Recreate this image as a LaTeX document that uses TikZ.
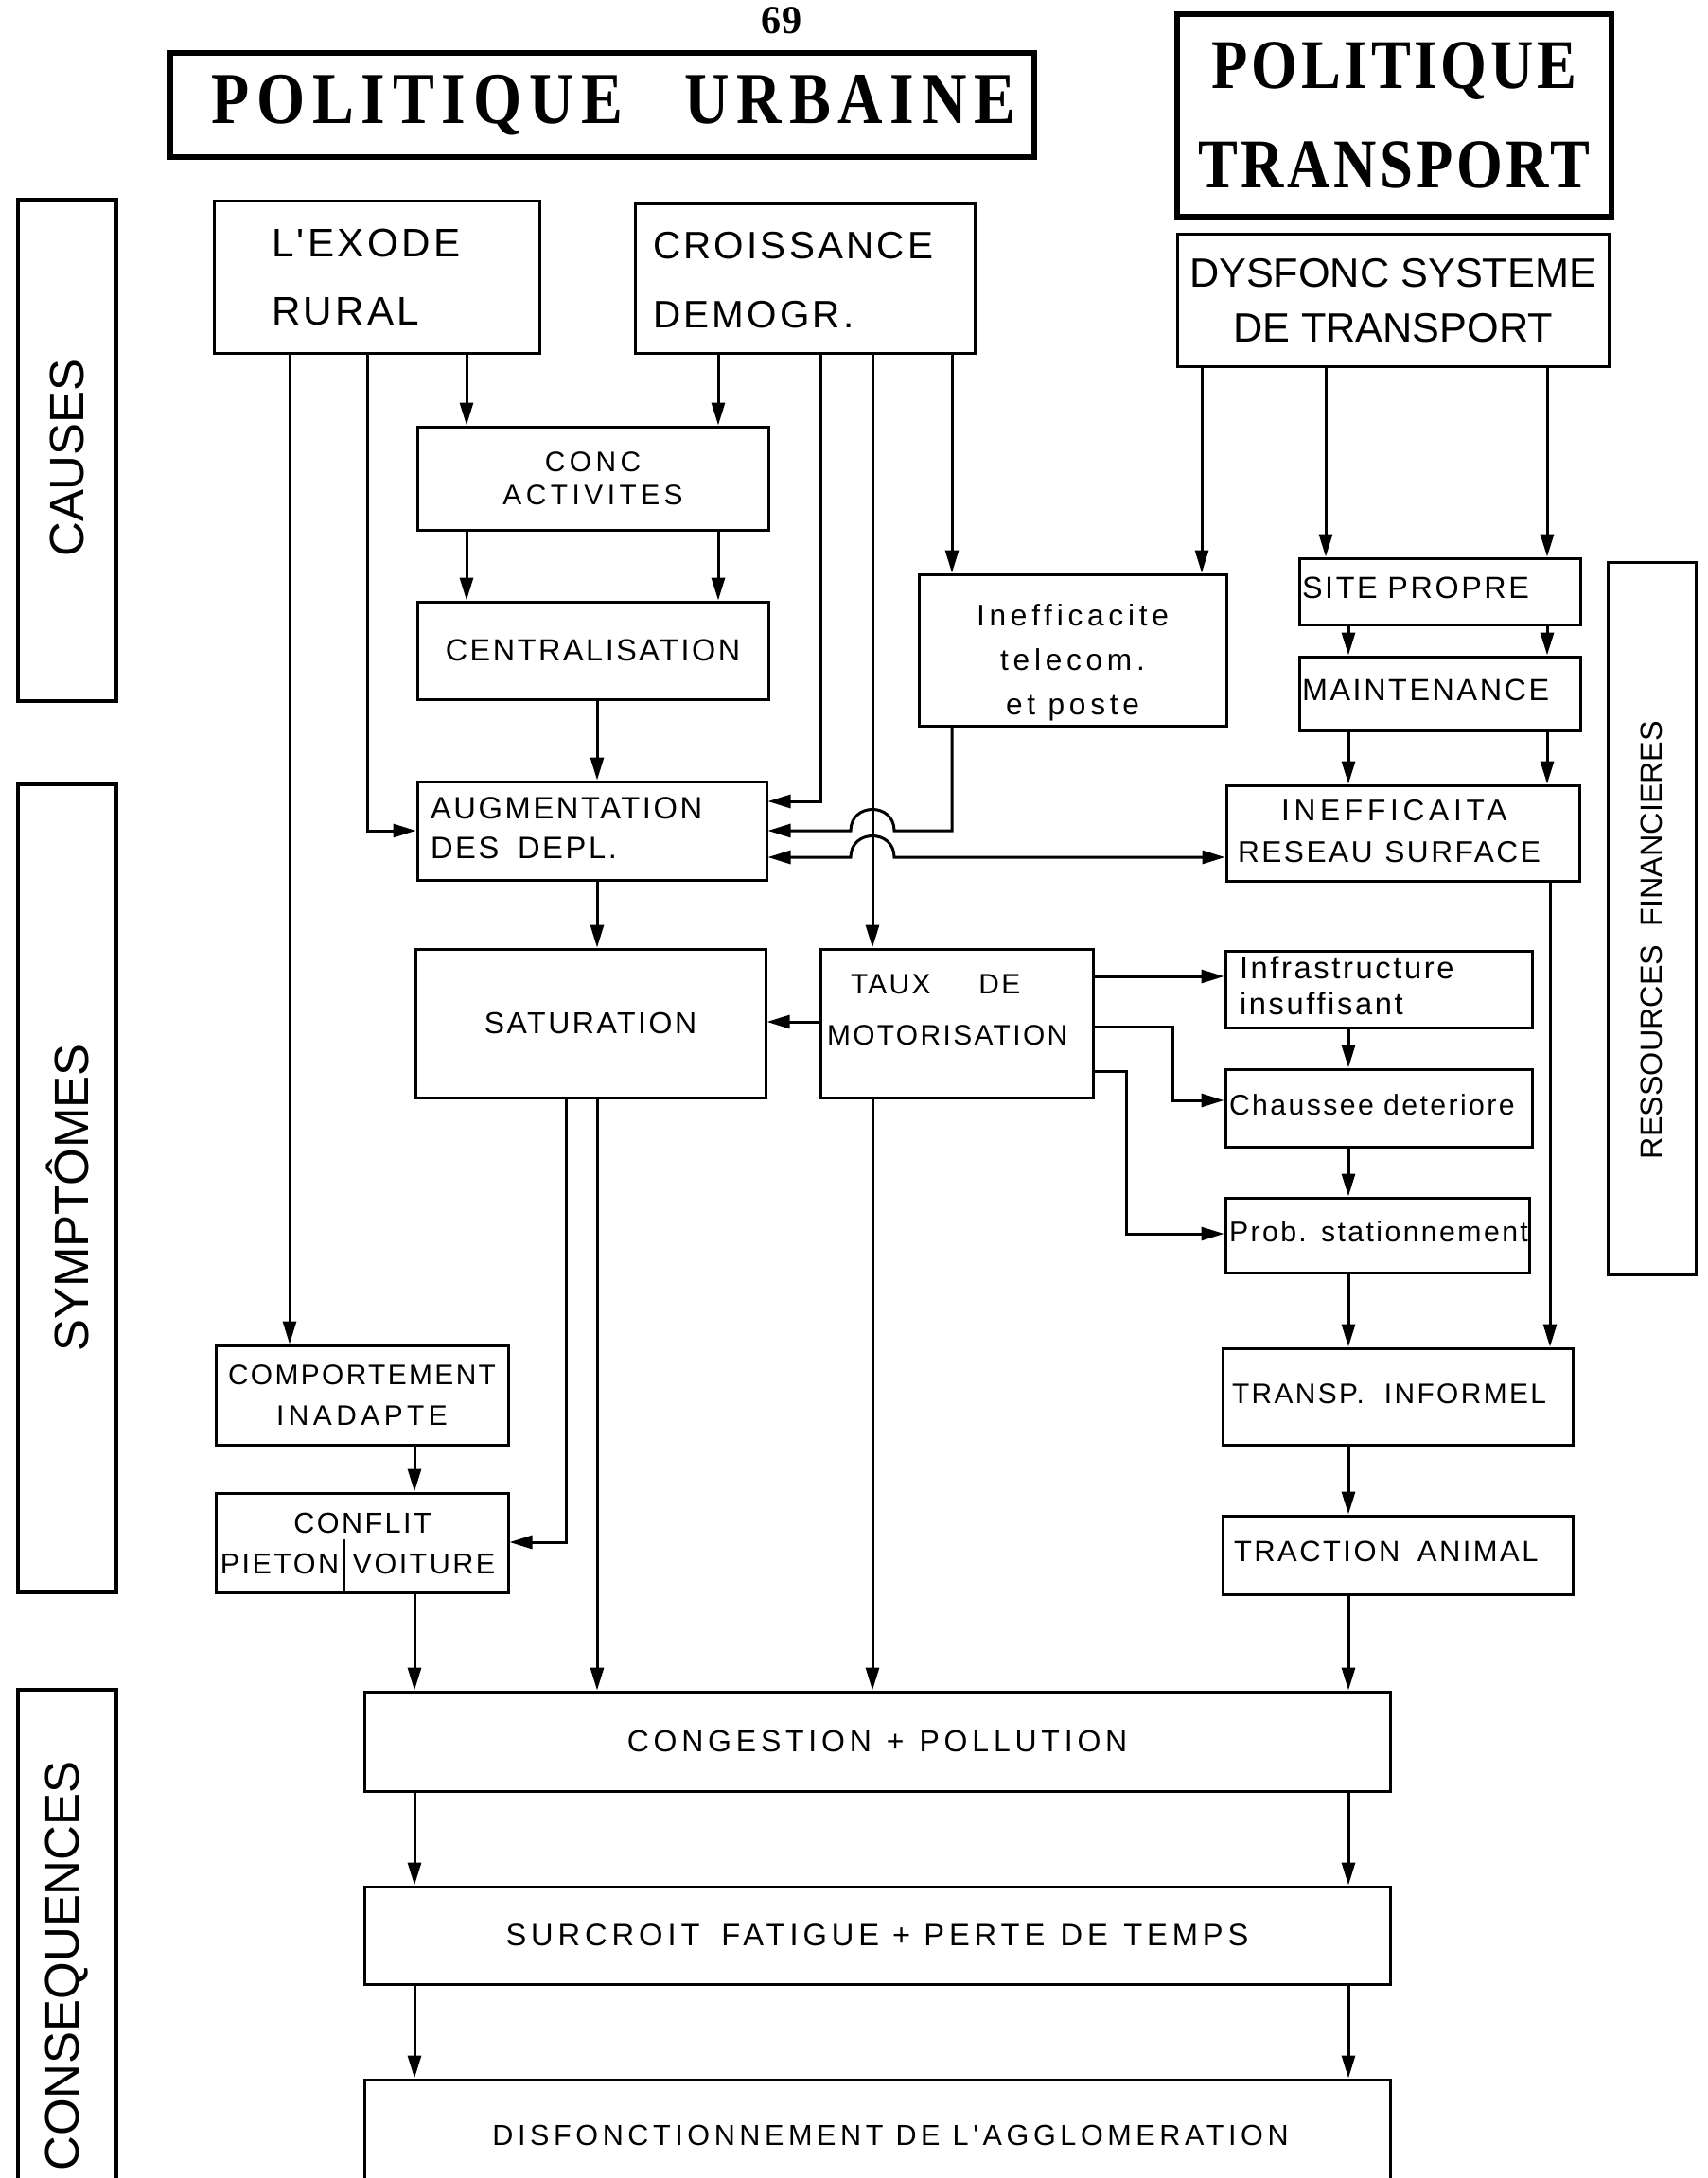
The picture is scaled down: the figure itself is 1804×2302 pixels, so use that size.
\documentclass[tikz,border=0pt]{standalone}
\usepackage{fontspec}
\setmainfont{Liberation Sans}
\newfontfamily\fN{Liberation Sans}
\newfontfamily\fB{Liberation Sans}[LetterSpace=8]
\newfontfamily\fC{Liberation Sans}[LetterSpace=15]
\newfontfamily\fH{Liberation Serif}[LetterSpace=5,FakeStretch=0.85]
\newfontfamily\fHw{Liberation Serif}[LetterSpace=10,FakeStretch=0.85]
\newfontfamily\fS{Liberation Serif}
\usetikzlibrary{arrows.meta,calc}
\newcommand\fsz[2]{\fontsize{#1}{#2}\selectfont}
% left-aligned block of lines, indented by #1 from the box edge
\newcommand\lft[2]{\hspace*{#1}\begin{tabular}{@{}l@{}}#2\end{tabular}}
% move a label vertically inside its box without changing the box
\newcommand\vmove[2]{\raisebox{#1}[\height][\depth]{#2}}
\tikzset{
  bx/.style={draw, line width=0.3mm, inner sep=0pt, align=center},
  lbx/.style={bx, align=left, text width=#1*0.1mm},
  sz/.style 2 args={minimum width=#1*0.1mm, minimum height=#2*0.1mm},
  hd/.style={draw, line width=0.6mm, inner sep=0pt, align=center},
  side/.style={draw, line width=0.45mm, inner sep=0pt, rotate=90, font=\fN\fsz{14.5}{17}},
  txt/.style={inner sep=0pt},
  ln/.style={line width=0.3mm},
  arr/.style={line width=0.3mm, -{Triangle[length=2.4mm,width=1.4mm]}},
  arrtwo/.style={line width=0.3mm, {Triangle[length=2.4mm,width=1.4mm]}-{Triangle[length=2.4mm,width=1.4mm]}},
}
\begin{document}
\begin{tikzpicture}[x=0.1mm, y=-0.1mm]
\fill[white] (0,0) rectangle (1804,2302);
\useasboundingbox (0,0) rectangle (1804,2302);

% page number and headings
\node[txt, font=\fS\bfseries\fsz{12}{14}] (pnum) at (826,22) {69};
\node[hd, sz={913}{110}, font=\fHw\bfseries\fsz{22}{26}] (purb) at (636.5,111)
  {\hspace*{2.4mm}POLITIQUE\hspace{0.85em}URBAINE};
\node[hd, sz={459}{214}, font=\fH\bfseries\fsz{21}{30}] (ptra) at (1473.5,122)
  {POLITIQUE\\TRANSPORT};

% side bands
\node[side, sz={530}{104}] (causes) at (71,476) {CAUSES\hspace*{1.6mm}};
\node[side, sz={854}{104}] (sympt) at (71,1256) {SYMPTÔMES\hspace*{2mm}};
\node[side, sz={584}{104}] (conseq) at (71,2078) {CONSEQUENCES};
\node[side, line width=0.3mm, sz={753}{93}, font=\fN\fsz{9.2}{12}] (ress) at (1745.5,970.5)
  {RESSOURCES\hspace{0.6em}FINANCIERES\hspace*{4.6mm}};

% causes
\node[lbx=344, sz={344}{161}, font=\fB\fsz{12}{20.5}] (exode) at (398,293.5)
  {\lft{6.1mm}{L'EXODE\\RURAL}};
\node[lbx=359, sz={359}{158}, font=\fB\fsz{11.5}{20.8}] (croiss) at (850.5,295)
  {\lft{1.9mm}{CROISSANCE\\DEMOGR.}};
\node[bx, sz={456}{140}, font=\fN\fsz{12.3}{16.5}] (dysf) at (1472,318)
  {DYSFONC SYSTEME\\DE TRANSPORT};
\node[bx, sz={371}{109}, font=\fC\fsz{8.5}{10}] (conc) at (626.5,505.5) {CONC\\ACTIVITES};
\node[bx, sz={371}{103}, font=\fB\fsz{9.2}{11}] (central) at (626.5,687.5) {CENTRALISATION};
\node[bx, sz={325}{160}, font=\fC\fsz{9}{13.5}] (ineff) at (1133.5,687)
  {\vmove{-1.2mm}{\begin{tabular}{@{}c@{}}Inefficacite\\telecom.\\et poste\end{tabular}}};
\node[lbx=297, sz={297}{70}, font=\fB\fsz{9.2}{11}] (site) at (1521.5,625)
  {\lft{0.3mm}{SITE PROPRE}};
\node[lbx=297, sz={297}{78}, font=\fB\fsz{9.2}{11}] (maint) at (1521.5,733)
  {\lft{0.3mm}{MAINTENANCE}};

% symptoms
\node[lbx=369, sz={369}{104}, font=\fB\fsz{9.3}{12}] (aug) at (625.5,878)
  {\lft{1.4mm}{AUGMENTATION\\DES\hspace{0.6em}DEPL.}};
\node[lbx=373, sz={373}{101}, font=\fB\fsz{9}{12.5}] (ineffr) at (1482.5,880.5)
  {\lft{1.2mm}{\hspace*{4.6mm}{\fC INEFFICAITA}\\RESEAU\hspace{0.4em}SURFACE}};
\node[bx, sz={370}{157}, font=\fB\fsz{9.1}{11}] (satur) at (624,1081.5) {SATURATION};
\node[lbx=288, sz={288}{157}, font=\fB\fsz{8.5}{15.6}] (taux) at (1011,1081.5)
  {\vmove{1.5mm}{\lft{0.7mm}{\hspace*{2.5mm}TAUX\hspace{1.7em}DE\\MOTORISATION}}};
\node[lbx=324, sz={324}{81}, font=\fB\fsz{9.3}{10.8}] (infra) at (1457,1045.5)
  {\lft{1.5mm}{Infrastructure\\insuffisant}};
\node[lbx=324, sz={324}{82}, font=\fB\fsz{8.6}{10}] (chaus) at (1457,1171)
  {\lft{0.4mm}{Chaussee deteriore}};
\node[lbx=321, sz={321}{79}, font=\fB\fsz{8.6}{10}] (prob) at (1455.5,1305.5)
  {\lft{0.4mm}{Prob. stationnement}};
\node[bx, sz={309}{105}, font=\fB\fsz{8.5}{12}] (comp) at (382.5,1474.5)
  {COMPORTEMENT\\{\fC INADAPTE}};
\node[bx, sz={309}{105}] (confl) at (382.5,1630.5) {};
\node[txt, font=\fB\fsz{8.7}{10}] (conflt) at (383,1610) {CONFLIT};
\node[txt, anchor=east, font=\fB\fsz{8.7}{10}] (pieton) at (359,1653) {PIETON};
\node[txt, anchor=west, font=\fB\fsz{8.7}{10}] (voiture) at (372,1653) {VOITURE};
\coordinate (div) at (363,1627);
\draw[ln] (div) -- (confl.south -| div);
\node[lbx=370, sz={370}{102}, font=\fB\fsz{8.5}{10}] (transp) at (1477,1476)
  {\lft{1mm}{TRANSP.\hspace{0.7em}INFORMEL}};
\node[lbx=370, sz={370}{83}, font=\fB\fsz{8.8}{10}] (tract) at (1477,1643.5)
  {\lft{1.2mm}{TRACTION\hspace{0.6em}ANIMAL}};

% consequences
\node[bx, sz={1084}{105}, font=\fC\fsz{9.1}{11}] (cong) at (927,1840.5)
  {CONGESTION\hspace{0.5em}+\hspace{0.5em}POLLUTION};
\node[bx, sz={1084}{103}, font=\fC\fsz{9.3}{11}] (surc) at (927,2045.5)
  {SURCROIT\hspace{0.7em}FATIGUE + PERTE\hspace{0.5em}DE\hspace{0.5em}TEMPS};
\node[bx, sz={1084}{117}, font=\fC\fsz{8.7}{11}] (disf) at (927,2256.5)
  {\hspace*{2.8mm}DISFONCTIONNEMENT DE L'AGGLOMERATION};

% connector columns and rows
\coordinate (xA) at (306,0);
\coordinate (xB) at (388,0);
\coordinate (xC) at (493,0);
\coordinate (xD) at (759,0);
\coordinate (xE) at (867,0);
\coordinate (xF) at (922,0);
\coordinate (xG) at (1006,0);
\coordinate (xH) at (1270,0);
\coordinate (xI) at (1401,0);
\coordinate (xJ) at (1635,0);
\coordinate (xK) at (1425,0);
\coordinate (xL) at (631,0);
\coordinate (xM) at (598,0);
\coordinate (xN) at (438,0);
\coordinate (xO) at (1638,0);
\coordinate (xP) at (1239,0);
\coordinate (xQ) at (1190,0);
\coordinate (r847) at (0,847);
\coordinate (r878) at (0,878);
\coordinate (r906) at (0,906);
\coordinate (r1032) at (0,1032);
\coordinate (r1080) at (0,1080);
\coordinate (r1085) at (0,1085);
\coordinate (r1132) at (0,1132);
\coordinate (r1163) at (0,1163);
\coordinate (r1304) at (0,1304);
\coordinate (r1630) at (0,1630);

% causes level
\draw[arr] (exode.south -| xA) -- (comp.north -| xA);
\draw[arr] (exode.south -| xB) |- (aug.west |- r878);
\draw[arr] (exode.south -| xC) -- (conc.north -| xC);
\draw[arr] (croiss.south -| xD) -- (conc.north -| xD);
\draw[arr] (croiss.south -| xE) |- (aug.east |- r847);
\draw[arr] (croiss.south -| xF) -- (taux.north -| xF);
\draw[arr] (croiss.south -| xG) -- (ineff.north -| xG);
\draw[arr] (dysf.south -| xH) -- (ineff.north -| xH);
\draw[arr] (dysf.south -| xI) -- (site.north -| xI);
\draw[arr] (dysf.south -| xJ) -- (site.north -| xJ);
\draw[arr] (conc.south -| xC) -- (central.north -| xC);
\draw[arr] (conc.south -| xD) -- (central.north -| xD);
\draw[arr] (central.south -| xL) -- (aug.north -| xL);
\draw[arr] (site.south -| xK) -- (maint.north -| xK);
\draw[arr] (site.south -| xJ) -- (maint.north -| xJ);
\draw[arr] (maint.south -| xK) -- (ineffr.north -| xK);
\draw[arr] (maint.south -| xJ) -- (ineffr.north -| xJ);

% lines hopping over the vertical at xF
\draw[arr] (ineff.south -| xG) -- (xG |- r878) -- ($(xF |- r878)+(23,0)$)
  .. controls +(0,-30) and +(0,-30) .. ($(xF |- r878)+(-23,0)$) -- (aug.east |- r878);
\draw[arrtwo] (aug.east |- r906) -- ($(xF |- r906)+(-23,0)$)
  .. controls +(0,-30) and +(0,-30) .. ($(xF |- r906)+(23,0)$) -- (ineffr.west |- r906);

% symptoms level
\draw[arr] (aug.south -| xL) -- (satur.north -| xL);
\draw[arr] (taux.west |- r1080) -- (satur.east |- r1080);
\draw[arr] (taux.east |- r1032) -- (infra.west |- r1032);
\draw[arr] (taux.east |- r1085) -| (xP |- r1163) -- (chaus.west |- r1163);
\draw[arr] (taux.east |- r1132) -| (xQ |- r1304) -- (prob.west |- r1304);
\draw[arr] (infra.south -| xK) -- (chaus.north -| xK);
\draw[arr] (chaus.south -| xK) -- (prob.north -| xK);
\draw[arr] (prob.south -| xK) -- (transp.north -| xK);
\draw[arr] (ineffr.south -| xO) -- (transp.north -| xO);
\draw[arr] (transp.south -| xK) -- (tract.north -| xK);
\draw[arr] (satur.south -| xM) |- (confl.east |- r1630);
\draw[arr] (comp.south -| xN) -- (confl.north -| xN);

% into the consequences
\draw[arr] (confl.south -| xN) -- (cong.north -| xN);
\draw[arr] (satur.south -| xL) -- (cong.north -| xL);
\draw[arr] (taux.south -| xF) -- (cong.north -| xF);
\draw[arr] (tract.south -| xK) -- (cong.north -| xK);
\draw[arr] (cong.south -| xN) -- (surc.north -| xN);
\draw[arr] (cong.south -| xK) -- (surc.north -| xK);
\draw[arr] (surc.south -| xN) -- (disf.north -| xN);
\draw[arr] (surc.south -| xK) -- (disf.north -| xK);
\end{tikzpicture}
\end{document}
